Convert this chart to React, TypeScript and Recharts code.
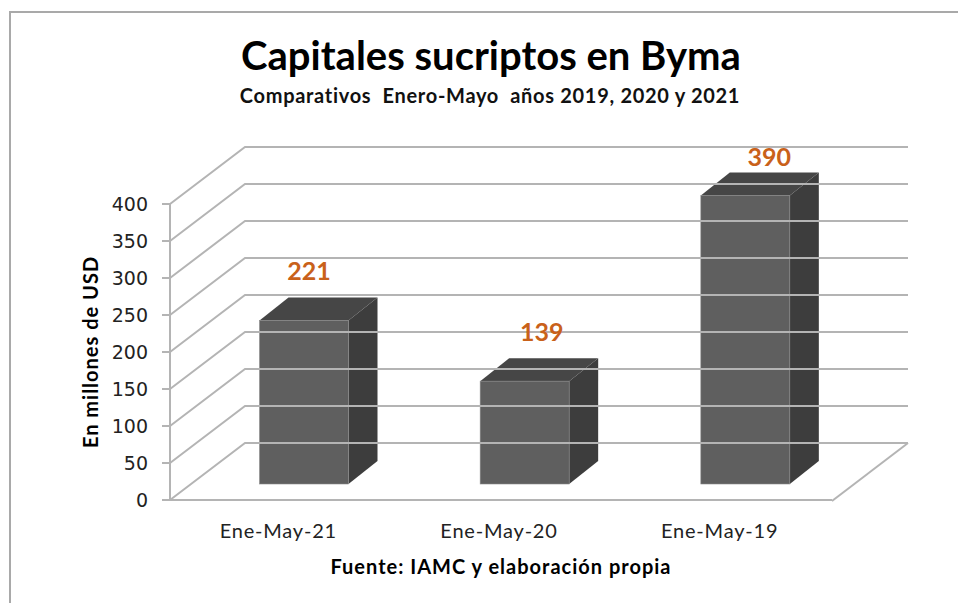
import React from "react";
import { BarChart, Bar, XAxis, YAxis, LabelList } from "recharts";

const categories = ["Ene-May-21", "Ene-May-20", "Ene-May-19"];
const capitales = [221, 139, 390];
const yTicks = [0, 50, 100, 150, 200, 250, 300, 350, 400];

const chartData = categories.map((periodo, i) => ({ periodo, capitales: capitales[i] }));

const W = 958;
const H = 603;
const AXIS_X = 170;
const WALL_DX = 75;
const WALL_DY = 57;
const WALL_RIGHT = 908;
const FLOOR_RIGHT = 832;
const BAR_DX = 23.5;
const BAR_DY = 16;
const DEPTH_DX = 29;
const DEPTH_DY = 23;
const GRID = "#b4b4b4";
const LABEL_NUDGE: Record<number, [number, number]> = {
  221: [5, -48],
  139: [17, -48],
  390: [24, -37],
};

function Bar3D(props: any) {
  const { x, y, width, height } = props;
  const l = x + BAR_DX;
  const r = l + width;
  const t = y - BAR_DY;
  const b = t + height;
  return (
    <g>
      <polygon points={`${r},${t} ${r + DEPTH_DX},${t - DEPTH_DY} ${r + DEPTH_DX},${b - DEPTH_DY} ${r},${b}`} fill="#3d3d3d" />
      <polygon points={`${l},${t} ${l + DEPTH_DX},${t - DEPTH_DY} ${r + DEPTH_DX},${t - DEPTH_DY} ${r},${t}`} fill="#464646" />
      <rect x={l} y={t} width={width} height={height} fill="#5f5f5f" stroke="#8a8a8a" strokeWidth={0.6} />
    </g>
  );
}

function YTick(props: any) {
  const { y, payload } = props;
  const by = y - WALL_DY;
  const bx = AXIS_X + WALL_DX;
  return (
    <g>
      <polyline
        points={`${AXIS_X},${y} ${bx},${by} ${WALL_RIGHT},${by}`}
        fill="none"
        stroke={GRID}
        strokeWidth={2}
      />
      {payload.value === 0 && (
        <line x1={FLOOR_RIGHT} y1={y + 1} x2={WALL_RIGHT} y2={by} stroke={GRID} strokeWidth={2} />
      )}
      <text x={AXIS_X - 22} y={y + 7} textAnchor="end" fontFamily="'DejaVu Sans'" fontSize={19} fill="#222">
        {payload.value}
      </text>
    </g>
  );
}

function ValueLabel(props: any) {
  const { x, y, width, value } = props;
  const n = LABEL_NUDGE[value] || [0, 0];
  return (
    <text
      x={x + BAR_DX + width / 2 + n[0]}
      y={y - BAR_DY + n[1] + 8}
      textAnchor="middle"
      fontFamily="Lato"
      fontWeight={700}
      fontSize={25}
      fill="#c9611a"
    >
      {value}
    </text>
  );
}

export default function App() {
  return (
    <div style={{ position: "absolute", left: 0, top: 0, width: W, height: H, overflow: "hidden", background: "#fff" }}>
      <div style={{ position: "absolute", left: 9, top: 11, width: W, height: H, borderLeft: "2px solid #a9a9a9", borderTop: "2px solid #a9a9a9" }} />
      <div style={{ position: "absolute", left: 0, width: 982, top: 32, textAlign: "center", fontFamily: "Lato", fontWeight: 700, fontSize: 40, lineHeight: "46px", color: "#000" }}>
        Capitales sucriptos en Byma
      </div>
      <div style={{ position: "absolute", left: 0, width: 980, top: 83, textAlign: "center", fontFamily: "Lato", fontWeight: 700, fontSize: 20, letterSpacing: 0.7, lineHeight: "24px", color: "#111", whiteSpace: "pre" }}>
        Comparativos  Enero-Mayo  años 2019, 2020 y 2021
      </div>
      <BarChart
        width={W}
        height={H}
        data={chartData}
        margin={{ top: 204, right: W - FLOOR_RIGHT, bottom: 0, left: 90 }}
        barSize={89}
        style={{ position: "absolute", left: 0, top: 0 }}
      >
        <YAxis
          width={80}
          type="number"
          domain={[0, 400]}
          ticks={yTicks}
          interval={0}
          tick={<YTick />}
          tickLine={{ stroke: GRID, strokeWidth: 2 }}
          tickSize={8}
          axisLine={{ stroke: GRID, strokeWidth: 2 }}
          label={{
            value: "En millones de USD",
            angle: -90,
            position: "insideLeft",
            offset: 1,
            style: { textAnchor: "middle", fontFamily: "Lato", fontWeight: 700, fontSize: 20, letterSpacing: 1, fill: "#000" },
          }}
        />
        <XAxis
          dataKey="periodo"
          height={103}
          tickLine={false}
          axisLine={{ stroke: GRID, strokeWidth: 2 }}
          interval={0}
          tick={{ fontFamily: "Lato", fontSize: 20, letterSpacing: 0.8, fill: "#222", dy: 16, dx: -2 }}
          label={{
            value: "Fuente: IAMC y elaboración propia",
            position: "insideBottom",
            offset: 29,
            style: { fontFamily: "Lato", fontWeight: 700, fontSize: 20, letterSpacing: 1, fill: "#000" },
          }}
        />
        <Bar dataKey="capitales" shape={<Bar3D />} isAnimationActive={false}>
          <LabelList dataKey="capitales" content={<ValueLabel />} />
        </Bar>
      </BarChart>
    </div>
  );
}
